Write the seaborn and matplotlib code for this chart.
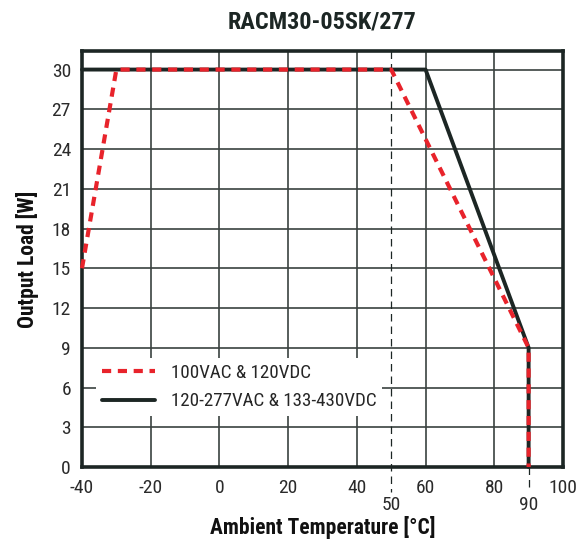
import matplotlib
matplotlib.use('Agg')
import matplotlib.pyplot as plt
import seaborn as sns
import pandas as pd

# derating curves
temp_100vac = [-40, -30, 50, 90, 90]
load_100vac = [15, 30, 30, 9, 0]
temp_277vac = [-40, 60, 90, 90]
load_277vac = [30, 30, 9, 0]

x_ticks = [-40, -20, 0, 20, 40, 60, 80, 100]
x_extra = [50, 90]
y_ticks = list(range(0, 31, 3))

sns.set_theme(style="white")
plt.rcParams['font.family'] = ['Liberation Sans Narrow', 'Roboto Condensed', 'Liberation Sans', 'DejaVu Sans']

dark = "#1c2624"
red = "#e8232b"
grid_c = "#3a4240"
tick_c = "#2a2a2a"

fig = plt.figure(figsize=(5.77, 5.41), dpi=100)
ax = fig.add_axes([0.1421, 0.1368, 0.8336, 0.7689])

df_277 = pd.DataFrame({"t": temp_277vac, "p": load_277vac})
df_100 = pd.DataFrame({"t": temp_100vac, "p": load_100vac})

sns.lineplot(data=df_277, x="t", y="p", sort=False, estimator=None, color=dark, lw=2.8,
             label="120-277VAC & 133-430VDC", ax=ax, zorder=4, clip_on=False)
sns.lineplot(data=df_100, x="t", y="p", sort=False, estimator=None, color=red, lw=3.0,
             label="100VAC & 120VDC", ax=ax, zorder=5, clip_on=False)
ax.lines[-1].set_dashes([2.2, 1.6])

ax.set_xlim(-40, 100)
ax.set_ylim(0, 31.4)
ax.set_xticks(x_ticks)
ax.set_yticks(y_ticks)
ax.set_xticklabels([str(v) for v in x_ticks], fontsize=14, color=tick_c)
ax.set_yticklabels([str(v) for v in y_ticks], fontsize=14, color=tick_c)
ax.tick_params(axis="x", length=0, pad=9)
ax.tick_params(axis="y", length=0, pad=8)

ax.grid(True, color=grid_c, lw=1.2)
ax.set_axisbelow(True)
for s in ax.spines.values():
    s.set_color(dark)
    s.set_linewidth(2.6)

# thin dashed reference line at 50 deg and tick at 90
ax.plot([50, 50], [31.4, -1.9], color=dark, lw=0.9, ls=(0, (6, 4)), clip_on=False, zorder=3)
ax.plot([90, 90], [0, -1.5], color=dark, lw=0.9, ls=(0, (6, 4)), clip_on=False, zorder=3)
for v in x_extra:
    ax.text(v, -2.2, str(v), ha="center", va="top", fontsize=14, color=tick_c)

ax.set_xlabel("Ambient Temperature [°C]", fontsize=15.5, fontweight="bold", color="#111111", labelpad=13)
ax.set_ylabel("Output Load [W]", fontsize=15.5, fontweight="bold", color="#111111", labelpad=9)
ax.set_title("RACM30-05SK/277", fontsize=17.5, fontweight="bold", color="#1c2624", pad=16)

handles, labels = ax.get_legend_handles_labels()
leg = ax.legend(handles[::-1], labels[::-1], loc="lower left", bbox_to_anchor=(0.01, 0.10),
                frameon=True, fancybox=False, framealpha=1, edgecolor="white",
                fontsize=13.7, handlelength=2.8, handletextpad=0.8, borderpad=0.3, labelspacing=0.55)
leg.get_frame().set_linewidth(0)
leg.set_zorder(6)

fig.savefig("out.png", dpi=100)
